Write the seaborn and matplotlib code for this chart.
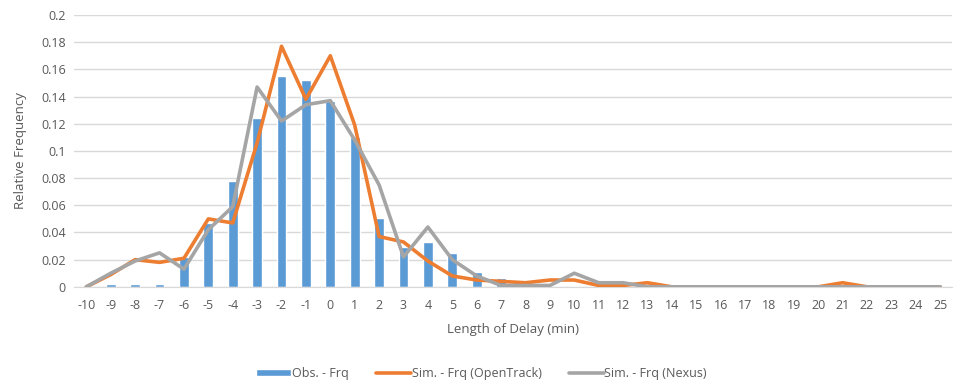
import numpy as np
import pandas as pd
import seaborn as sb
from matplotlib import pyplot as plt
from matplotlib.lines import Line2D
from matplotlib.patches import Patch

delays = list(range(-10, 26))
obs_frq = [0, 0.002, 0.002, 0.002, 0.022, 0.047, 0.078, 0.124, 0.155, 0.152,
           0.137, 0.110, 0.051, 0.029, 0.033, 0.025, 0.011, 0.0065, 0.001, 0,
           0, 0, 0, 0, 0, 0, 0, 0, 0, 0,
           0, 0, 0, 0, 0, 0]
opentrack_frq = [0, 0.009, 0.020, 0.018, 0.021, 0.050, 0.047, 0.106, 0.177, 0.138,
                 0.170, 0.119, 0.037, 0.033, 0.019, 0.008, 0.005, 0.004, 0.003, 0.005,
                 0.005, 0.001, 0.001, 0.003, 0, 0, 0, 0, 0, 0,
                 0, 0.003, 0, 0, 0, 0]
nexus_frq = [0, 0.010, 0.019, 0.025, 0.013, 0.042, 0.059, 0.147, 0.122, 0.134,
             0.137, 0.108, 0.075, 0.022, 0.044, 0.020, 0.008, 0.001, 0.001, 0.001,
             0.010, 0.003, 0.003, 0, 0, 0, 0, 0, 0, 0,
             0, 0, 0, 0, 0, 0]

blue, orange, grey = '#5B9BD5', '#ED7D31', '#A5A5A5'
txt = '#595959'

sb.set_style('white')
plt.rcParams['font.family'] = ['Open Sans', 'DejaVu Sans']
plt.rcParams['font.size'] = 9

df = pd.DataFrame({'delay': [str(d) for d in delays], 'pos': np.arange(len(delays)),
                   'obs': obs_frq, 'opentrack': opentrack_frq, 'nexus': nexus_frq})

fig, ax = plt.subplots(figsize=(9.63, 3.85), dpi=100)
fig.subplots_adjust(left=0.077, right=0.989, top=0.961, bottom=0.255)

sb.barplot(data=df, x='delay', y='obs', color=blue, width=0.4, saturation=1, ax=ax, zorder=2)
sb.lineplot(data=df, x='pos', y='opentrack', color=orange, linewidth=2.6, ax=ax, zorder=3)
sb.lineplot(data=df, x='pos', y='nexus', color=grey, linewidth=2.6, ax=ax, zorder=4)

ax.set_xlim(-0.5, len(delays) - 0.5)
ax.set_ylim(0, 0.2)
ax.set_yticks(np.arange(0, 0.201, 0.02))
ax.set_yticklabels(['0'] + ['%g' % round(v, 2) for v in np.arange(0.02, 0.201, 0.02)])
ax.grid(axis='y', color='#D9D9D9', linewidth=1, zorder=0)
ax.set_axisbelow(True)
for s in ['top', 'right', 'left']:
    ax.spines[s].set_visible(False)
ax.spines['bottom'].set_color('#D9D9D9')
ax.tick_params(axis='both', length=0, colors=txt, labelsize=9, pad=6)
ax.tick_params(axis='x', pad=9)
ax.set_xlabel('Length of Delay (min)', color=txt, fontsize=9.5, labelpad=8)
ax.set_ylabel('Relative Frequency', color=txt, fontsize=9.5, labelpad=10)

handles = [Patch(facecolor=blue), Line2D([], [], color=orange, linewidth=2.6),
           Line2D([], [], color=grey, linewidth=2.6)]
labels = ['Obs. - Frq', 'Sim. - Frq (OpenTrack)', 'Sim. - Frq (Nexus)']
fig.legend(handles, labels, loc='lower center', bbox_to_anchor=(0.5, -0.015), ncol=3,
           frameon=False, labelcolor=txt, fontsize=9, handlelength=2.8,
           handleheight=0.5, handletextpad=0.05, columnspacing=2.2)

fig.savefig('out.png', dpi=100)
